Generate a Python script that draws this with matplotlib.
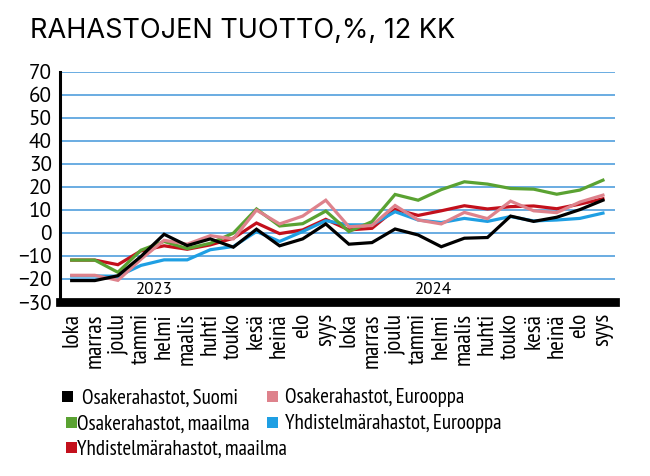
import matplotlib
matplotlib.use("Agg")
import matplotlib.pyplot as plt
from matplotlib.patches import Rectangle

months = ['loka', 'marras', 'joulu', 'tammi', 'helmi', 'maalis', 'huhti', 'touko',
          'kesä', 'heinä', 'elo', 'syys'] * 2
years = ['2023', '2024']

osake_suomi = [-20.7, -20.7, -18.6, -10.2, -0.6, -5.5, -2.6, -6.2, 1.6, -5.6, -2.6, 3.9,
               -4.9, -4.2, 1.7, -0.9, -6.0, -2.3, -2.0, 7.3, 5.0, 6.8, 10.1, 14.2]
osake_eurooppa = [-18.4, -18.4, -20.6, -11.4, -3.2, -4.9, -1.2, -2.6, 9.9, 3.9, 7.3, 14.2,
                  2.7, 3.2, 11.9, 5.6, 3.9, 8.9, 6.2, 13.8, 9.6, 8.8, 13.4, 16.4]
osake_maailma = [-11.8, -11.8, -17.1, -7.5, -3.7, -6.8, -4.5, -0.1, 10.4, 3.0, 4.0, 9.5,
                 0.6, 4.9, 16.7, 14.2, 18.8, 22.2, 21.2, 19.3, 19.0, 16.8, 18.6, 22.9]
yhd_eurooppa = [-18.7, -18.7, -18.8, -14.1, -11.7, -11.7, -7.3, -5.9, 0.6, -3.7, 0.6, 5.3,
                3.5, 3.5, 9.2, 5.6, 4.5, 6.3, 5.0, 7.1, 5.2, 5.6, 6.3, 8.6]
yhd_maailma = [-11.8, -11.8, -13.8, -7.8, -5.6, -7.1, -5.2, -2.3, 4.3, -0.3, 1.3, 5.9,
               1.3, 2.0, 10.2, 7.6, 9.6, 11.8, 10.4, 11.4, 11.7, 10.5, 12.5, 14.8]

series = [
    ("Osakerahastot, Suomi", osake_suomi, "#000000"),
    ("Osakerahastot, Eurooppa", osake_eurooppa, "#de828c"),
    ("Osakerahastot, maailma", osake_maailma, "#5aa232"),
    ("Yhdistelmärahastot, Eurooppa", yhd_eurooppa, "#1f9fe3"),
    ("Yhdistelmärahastot, maailma", yhd_maailma, "#c3101c"),
]
draw_order = [4, 3, 2, 1, 0]
TITLE_TEXT = "RAHASTOJEN TUOTTO,%, 12 KK"

NARROW = ['PT Sans Narrow', 'Roboto Condensed', 'DejaVu Sans']
REG = ['PT Sans', 'Liberation Sans', 'DejaVu Sans']
TITLE = ['Inter', 'Lato', 'DejaVu Sans']

W, H = 650, 476
fig = plt.figure(figsize=(6.5, 4.76), dpi=100)
renderer = fig.canvas.get_renderer()


def width_at(s, family, size):
    t = fig.text(0, 0, s, fontsize=size, family=family)
    w = t.get_window_extent(renderer).width
    t.remove()
    return w


def fit_size(strings, family, target):
    tot = sum(width_at(s, family, 10) for s in strings)
    return 10 * target / tot


month_fs = fit_size(['marras', 'loka'], NARROW, 55 + 34)
legend_fs = fit_size(['Osakerahastot, Suomi', 'Yhdistelmärahastot, maailma'], NARROW, 156 + 212)
title_fs = fit_size([TITLE_TEXT], TITLE, 425)
year_fs = fit_size(['2023'], REG, 37)
tick_fs = fit_size(['70'], REG, 23)

ax = fig.add_axes([60.15 / W, 1 - 302 / H, (614.5 - 60.15) / W, (302 - 71.7) / H])

x = list(range(len(months)))
for k in draw_order:
    name, vals, col = series[k]
    ax.plot(x, vals, color=col, lw=2.3, solid_joinstyle='miter', zorder=3)

ax.set_xlim(-0.5, len(months) - 0.5)
ax.set_ylim(-30, 70)
ax.set_yticks(range(-30, 71, 10))
for v in range(-20, 71, 10):
    ax.axhline(v, color="#5ea6df", lw=1.3, zorder=1)

ax.set_xticks(x)
ax.set_xticklabels(months, rotation=90, fontsize=month_fs, family=NARROW, va='top', ha='center')
ax.tick_params(axis='x', length=0, pad=8)
ax.tick_params(axis='y', length=0, pad=6, labelsize=tick_fs)
for lab in ax.get_yticklabels():
    lab.set_family(REG)

for s in ['top', 'right']:
    ax.spines[s].set_visible(False)
ax.spines['left'].set_linewidth(2.2)
ax.spines['bottom'].set_linewidth(6.3)
ax.spines['bottom'].set_zorder(5)

ax.text(3.58, -26.4, years[0], ha='center', va='baseline', fontsize=year_fs, family=REG, zorder=4)
ax.text(15.65, -26.4, years[1], ha='center', va='baseline', fontsize=year_fs, family=REG, zorder=4)

fig.text(30 / W, 1 - 38.3 / H, TITLE_TEXT, fontsize=title_fs,
         family=TITLE, va='baseline', ha='left')

# legend (manual layout): (series, square x, text x, baseline y)
legend_items = [
    (0, 62, 81.7, 403.3), (1, 267, 285, 403.3),
    (2, 65.5, 77, 429.3), (3, 267, 285, 429.3),
    (4, 65.5, 77, 454.3),
]
for k, sx, tx, by in legend_items:
    name, vals, col = series[k]
    fig.patches.append(Rectangle((sx / W, 1 - (by - 1.5) / H), 11 / W, 11 / H,
                                 transform=fig.transFigure, facecolor=col, edgecolor='none'))
    fig.text(tx / W, 1 - by / H, name, fontsize=legend_fs, family=NARROW, va='baseline', ha='left')

fig.savefig("out.png", dpi=100)
